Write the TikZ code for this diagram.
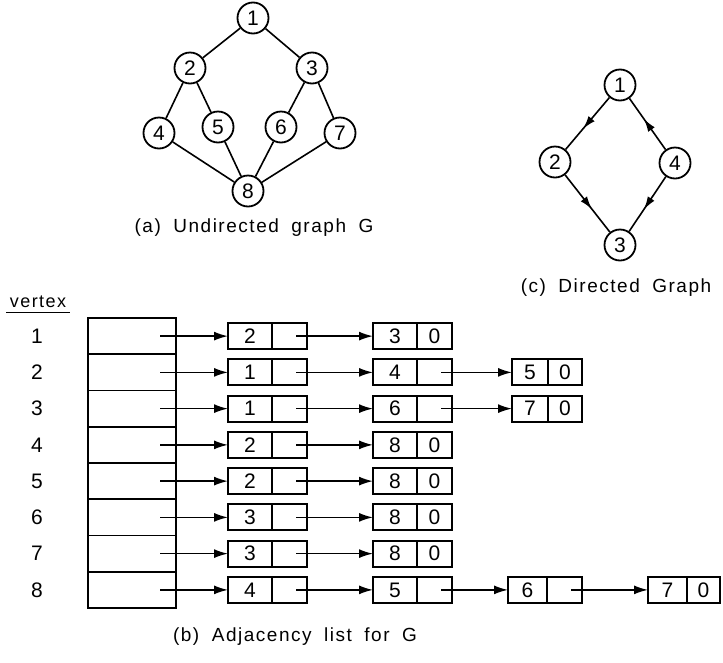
\documentclass[tikz,border=0pt]{standalone}
\usepackage{fontspec}
\setmainfont{Liberation Sans}
\newfontfamily\lblfont[LetterSpace=8]{Liberation Sans}
\usetikzlibrary{arrows.meta,decorations.markings}
\newcommand\listcell[7]{%
  \node[valcell,minimum width=#6] (#1) at (#2,#3) {#4};
  \node[valcell,anchor=west,minimum width=#7] (#1p) at (#1.east) {#5};}
\begin{document}
\begin{tikzpicture}[x=1pt,y=-1pt,
  vtx/.style={circle,draw,line width=1.8pt,minimum size=31pt,inner sep=0pt,font=\fontsize{21}{21}\selectfont},
  gline/.style={line width=1.6pt},
  midarrow/.style={line width=1.6pt,postaction={decorate},
    decoration={markings,mark=at position 0.6 with {\arrow{Latex[length=13pt,width=8pt]}}}},
  valcell/.style={draw,line width=1.8pt,minimum height=26pt,inner sep=0pt,outer sep=0pt,font=\fontsize{21}{21}\selectfont},
  tabrow/.style={draw,line width=1.8pt,minimum width=88pt,minimum height=36.25pt,inner sep=0pt,outer sep=0pt},
  ptr/.style={line width=1.6pt,-{Latex[length=14pt,width=9pt]}},
  lbl/.style={font=\lblfont\fontsize{19}{19}\selectfont},
  vnum/.style={font=\fontsize{21}{21}\selectfont}
]
\useasboundingbox (0,0) rectangle (723,662);

% (a) undirected graph
\node[vtx] (u1) at (253,18) {1};
\node[vtx] (u2) at (190,68) {2};
\node[vtx] (u3) at (312,68) {3};
\node[vtx] (u4) at (159,133) {4};
\node[vtx] (u5) at (218,127) {5};
\node[vtx] (u6) at (281,127) {6};
\node[vtx] (u7) at (340,133) {7};
\node[vtx] (u8) at (248,191) {8};
\draw[gline] (u1) -- (u2) (u1) -- (u3) (u2) -- (u4) (u2) -- (u5)
  (u3) -- (u6) (u3) -- (u7) (u4) -- (u8) (u5) -- (u8) (u6) -- (u8) (u7) -- (u8);
\node[lbl] (la) at (254,228) {(a)\hspace{0.3em} Undirected\hspace{0.3em} graph\hspace{0.3em} G};

% (c) directed graph
\node[vtx] (d1) at (620,85) {1};
\node[vtx] (d2) at (555,162) {2};
\node[vtx] (d4) at (675,163) {4};
\node[vtx] (d3) at (620,245) {3};
\draw[midarrow] (d1) -- (d2);
\draw[midarrow] (d4) -- (d1);
\draw[midarrow] (d2) -- (d3);
\draw[midarrow] (d4) -- (d3);
\node[lbl] (lc) at (616,288) {(c)\hspace{0.3em} Directed\hspace{0.3em} Graph};

% (b) adjacency list
\node[lbl,font=\lblfont\fontsize{18}{18}\selectfont] (vh) at (38,302) {vertex};
\draw[line width=1.4pt] ([yshift=-1pt]vh.south west) -- ([yshift=-1pt]vh.south east);
\foreach \i/\y in {1/336.125,2/372.375,3/408.625,4/444.875,5/481.125,6/517.375,7/553.625,8/589.875}{
  \node[tabrow] (t\i) at (132,\y) {};
  \node[vnum] (v\i) at (37,\y) {\i};
}
\listcell{a1}{250}{336.125}{2}{}{44pt}{35pt}
\listcell{b1}{395}{336.125}{3}{0}{44pt}{35pt}
\listcell{a2}{250}{372.375}{1}{}{44pt}{35pt}
\listcell{b2}{395}{372.375}{4}{}{44pt}{35pt}
\listcell{c2}{530}{372.375}{5}{0}{36pt}{34pt}
\listcell{a3}{250}{408.625}{1}{}{44pt}{35pt}
\listcell{b3}{395}{408.625}{6}{}{44pt}{35pt}
\listcell{c3}{530}{408.625}{7}{0}{36pt}{34pt}
\listcell{a4}{250}{444.875}{2}{}{44pt}{35pt}
\listcell{b4}{395}{444.875}{8}{0}{44pt}{35pt}
\listcell{a5}{250}{481.125}{2}{}{44pt}{35pt}
\listcell{b5}{395}{481.125}{8}{0}{44pt}{35pt}
\listcell{a6}{250}{517.375}{3}{}{44pt}{35pt}
\listcell{b6}{395}{517.375}{8}{0}{44pt}{35pt}
\listcell{a7}{250}{553.625}{3}{}{44pt}{35pt}
\listcell{b7}{395}{553.625}{8}{0}{44pt}{35pt}
\listcell{a8}{250}{589.875}{4}{}{44pt}{35pt}
\listcell{b8}{395}{589.875}{5}{}{44pt}{35pt}
\listcell{c8}{527.5}{589.875}{6}{}{39pt}{35pt}
\listcell{d8}{667.5}{589.875}{7}{0}{39pt}{33pt}

\foreach \i in {1,...,8}{
  \draw[ptr] ([xshift=-16pt]t\i.east) -- (a\i.west);
  \draw[ptr] ([xshift=-11pt]a\i p.east) -- (b\i.west);
}
\draw[ptr] ([xshift=-11pt]b2p.east) -- (c2.west);
\draw[ptr] ([xshift=-11pt]b3p.east) -- (c3.west);
\draw[ptr] ([xshift=-11pt]b8p.east) -- (c8.west);
\draw[ptr] ([xshift=-11pt]c8p.east) -- (d8.west);

\node[lbl] (lb) at (295,637) {(b)\hspace{0.3em} Adjacency\hspace{0.3em} list\hspace{0.3em} for\hspace{0.3em} G};
\end{tikzpicture}
\end{document}
